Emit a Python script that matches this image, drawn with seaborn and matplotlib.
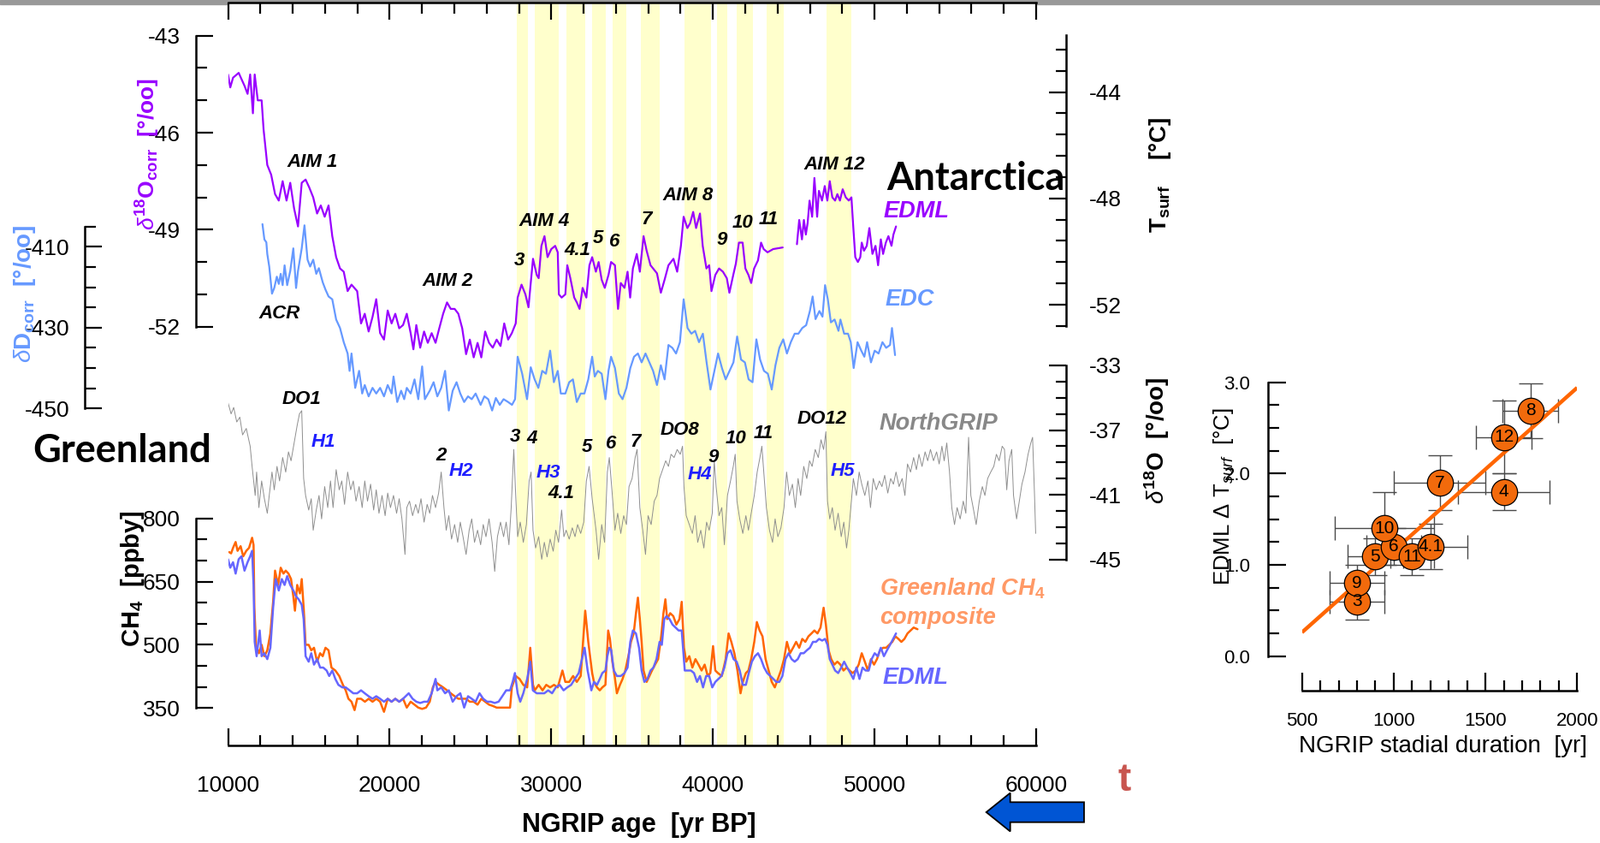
import numpy as np
import matplotlib
matplotlib.use("Agg")
import matplotlib.pyplot as plt
from matplotlib.patches import Rectangle, FancyArrow
from matplotlib.ticker import FixedLocator, StrMethodFormatter
import seaborn as sns

# ---------------- data ----------------
# yellow stadial bands (NGRIP age, yr BP)
band_start = [27850, 28985, 30930, 32530, 33780, 35520, 38260, 40270, 41490, 43330, 47040]
band_end = [28580, 30460, 32090, 33350, 34650, 36700, 39910, 40900, 42480, 44400, 48570]

# EDML d18O (purple), two pieces with a gap near 44-45 kyr
edml_age = [
    10000, 10140, 10310, 10660, 11020, 11210, 11370, 11540, 11650, 11840,
    12080, 12200, 12430, 12670, 12910, 13140, 13380, 13620, 13850, 14090,
    14330, 14560, 14800, 15030, 15270, 15510, 15740, 15980, 16220, 16450,
    16690, 16930, 17160, 17400, 17640, 17990, 18230, 18460, 18700, 18940,
    19170, 19410, 19650, 19880, 20120, 20350, 20590, 20830, 21060, 21300,
    21470, 21650, 21890, 22130, 22360, 22600, 22840, 23070, 23310, 23550,
    23780, 24020, 24250, 24490, 24730, 24960, 25200, 25440, 25670, 25910,
    26150, 26380, 26620, 26860, 27090, 27330, 27560, 27800, 27920, 28160,
    28400, 28590, 28870, 29100, 29220, 29390, 29580, 29770, 30000, 30240,
    30400, 30470, 30640, 30870, 30990, 31180, 31420, 31580, 31750, 31940,
    32170, 32360, 32530, 32760, 32930, 33120, 33310, 33540, 33700, 33940,
    34130, 34300, 34530, 34720, 34880, 35050, 35290, 35480, 35710, 35900,
    36140, 36300, 36540, 36780, 37010, 37250, 37560, 37790, 38020, 38190,
    38420, 38590, 38780, 38960, 39200, 39370, 39600, 39770, 39910, 40150,
    40380, 40620, 40860, 41020, 41260, 41420, 41610, 41840, 42010, 42200,
    42370, 42550, 42790, 42980, 43140, 43380, 43730, 44320,
    45200, 45340, 45510, 45630, 45750, 45860, 45980, 46140, 46280, 46450,
    46560, 46750, 46920, 47080, 47230, 47390, 47560, 47700, 47860, 48030,
    48220, 48410, 48570, 48690, 48810, 48970, 49120, 49210, 49350, 49520,
    49680, 49870, 50060, 50220, 50390, 50530, 50700, 50860, 51050, 51170,
    51330]
edml_d18o = [
    -44.2, -44.6, -44.3, -44.15, -44.55, -44.8, -44.2, -45.4, -44.2, -45.0,
    -45.0, -45.9, -47.0, -47.3, -47.9, -48.1, -47.5, -48.1, -47.55, -48.35,
    -48.9, -47.55, -47.45, -47.7, -48.0, -48.5, -48.25, -48.6, -48.25, -49.2,
    -49.85, -50.2, -50.3, -50.9, -50.7, -50.9, -51.9, -51.6, -52.15, -51.7,
    -51.15, -52.2, -52.4, -51.5, -51.9, -51.6, -52.05, -51.95, -51.6, -52.2,
    -52.7, -51.95, -52.65, -52.15, -52.5, -52.2, -52.5, -52.05, -51.6, -51.25,
    -51.45, -51.45, -51.6, -52.05, -52.85, -52.4, -52.95, -52.5, -52.95, -52.15,
    -52.5, -52.65, -52.4, -52.6, -51.9, -52.4, -52.2, -51.9, -51.1, -50.7,
    -51.0, -51.4, -49.9, -50.4, -50.5, -49.5, -49.2, -49.85, -49.6, -49.5,
    -49.7, -51.0, -51.1, -51.0, -50.1, -50.5, -51.1, -51.25, -51.45, -50.8,
    -51.1, -50.1, -49.85, -50.3, -50.0, -50.55, -50.8, -50.4, -50.0, -50.1,
    -51.45, -50.65, -50.8, -50.3, -51.1, -50.2, -49.75, -50.3, -49.2, -49.65,
    -50.1, -50.2, -50.35, -50.95, -50.55, -50.1, -49.9, -50.3, -49.5, -48.6,
    -48.95, -48.8, -48.45, -48.95, -48.5, -49.5, -50.2, -50.1, -50.9, -50.4,
    -50.2, -50.3, -50.5, -50.95, -50.4, -50.05, -49.4, -49.4, -50.2, -50.4,
    -50.65, -50.2, -49.95, -49.4, -49.6, -49.7, -49.6, -49.55,
    -49.45, -48.7, -49.3, -48.7, -49.15, -48.8, -48.1, -48.6, -47.4, -48.6,
    -47.8, -48.1, -47.65, -48.1, -47.5, -48.0, -48.1, -47.9, -48.1, -47.75,
    -48.0, -48.1, -48.0, -48.95, -49.85, -50.0, -49.85, -49.4, -49.65, -49.5,
    -48.95, -49.75, -49.5, -50.1, -49.3, -49.75, -49.4, -49.2, -49.5, -49.15,
    -48.9]

# EDC dD (light blue)
edc_age = [
    12130, 12250, 12370, 12430, 12550, 12720, 12860, 13020, 13140, 13260,
    13380, 13500, 13660, 13850, 14040, 14210, 14330, 14560, 14730, 14920,
    15080, 15270, 15460, 15620, 15860, 16030, 16220, 16450, 16690, 16930,
    17160, 17400, 17520, 17640, 17870, 18110, 18300, 18460, 18700, 18940,
    19170, 19410, 19650, 19880, 20120, 20240, 20470, 20710, 20900, 21060,
    21300, 21540, 21770, 22010, 22180, 22480, 22720, 22950, 23190, 23430,
    23660, 23900, 24140, 24370, 24610, 24850, 25080, 25320, 25630, 25860,
    26100, 26340, 26570, 26810, 27050, 27330, 27570, 27760, 27920, 28200,
    28500, 28730, 28970, 29200, 29440, 29670, 29930, 30160, 30400, 30590,
    30870, 31110, 31340, 31580, 31820, 32050, 32290, 32530, 32690, 32880,
    33120, 33350, 33540, 33700, 33940, 34180, 34410, 34650, 34890, 35120,
    35360, 35590, 35830, 36070, 36300, 36540, 36780, 37010, 37250, 37490,
    37720, 37960, 38190, 38430, 38670, 38900, 39140, 39380, 39610, 39850,
    40090, 40320, 40560, 40790, 41030, 41270, 41500, 41740, 41980, 42210,
    42450, 42690, 42920, 43160, 43400, 43640, 43870, 44110, 44350, 44580,
    44820, 45060, 45290, 45530, 45770, 46000, 46170, 46350, 46590, 46780,
    46940, 47110, 47300, 47530, 47770, 47890, 48120, 48360, 48530, 48710,
    48950, 49180, 49370, 49540, 49780, 50010, 50250, 50490, 50720, 50960,
    51080, 51270]
edc_dd = [
    -404.4, -408.2, -408.9, -411.8, -414.9, -421.6, -420.2, -417.4, -419.2, -416.7,
    -419.5, -414.6, -419.5, -416.0, -410.4, -420.2, -416.0, -410.4, -404.7, -413.2,
    -414.9, -413.2, -416.7, -415.3, -418.8, -420.6, -422.3, -423.0, -428.0, -430.1,
    -433.6, -436.4, -440.7, -436.4, -444.9, -440.7, -446.3, -444.2, -447.0, -444.9,
    -446.3, -444.9, -447.0, -444.2, -446.3, -442.1, -448.4, -445.6, -447.7, -444.9,
    -446.3, -442.8, -447.7, -439.6, -447.7, -445.6, -443.5, -447.0, -444.9, -440.7,
    -450.5, -445.6, -443.5, -446.3, -448.4, -447.0, -447.7, -446.3, -449.1, -447.0,
    -447.7, -450.5, -447.4, -449.1, -447.7, -448.4, -449.1, -447.7, -437.2, -441.4,
    -447.7, -439.8, -442.8, -444.9, -440.7, -441.4, -435.7, -443.5, -440.7, -446.3,
    -446.3, -443.5, -442.8, -448.4, -446.3, -446.3, -442.8, -437.2, -442.1, -440.7,
    -441.4, -447.7, -440.7, -437.2, -440.0, -446.3, -447.7, -444.9, -440.0, -437.2,
    -436.4, -438.6, -436.4, -438.6, -440.7, -444.2, -439.3, -442.8, -434.3, -435.0,
    -436.4, -433.6, -423.0, -430.1, -431.5, -430.8, -433.6, -431.5, -438.6, -445.3,
    -440.7, -436.4, -440.0, -442.8, -440.7, -438.6, -432.2, -437.9, -438.6, -442.8,
    -443.5, -432.9, -437.9, -440.7, -441.4, -445.3, -439.3, -435.0, -432.9, -436.4,
    -433.6, -431.5, -431.5, -430.1, -429.4, -425.9, -422.3, -427.9, -425.9, -427.3,
    -419.5, -423.0, -428.7, -428.0, -430.8, -428.0, -431.5, -431.5, -433.6, -440.0,
    -433.6, -435.7, -437.2, -433.6, -438.6, -435.7, -436.4, -433.6, -435.0, -434.3,
    -430.1, -436.8]

# NorthGRIP d18O (grey)
ngrip_age = [
    10000, 10190, 10350, 10540, 10730, 10900, 11130, 11370, 11490, 11680,
    11770, 11910, 12080, 12250, 12430, 12550, 12720, 12860, 13030, 13190,
    13380, 13570, 13740, 13900, 14090, 14280, 14420, 14560, 14680, 14800,
    14990, 15150, 15270, 15460, 15630, 15790, 15980, 16170, 16340, 16500,
    16690, 16880, 17040, 17210, 17400, 17590, 17750, 17920, 18110, 18300,
    18460, 18630, 18820, 19010, 19170, 19340, 19530, 19720, 19880, 20050,
    20240, 20430, 20590, 20760, 20950, 21060, 21230, 21420, 21610, 21770,
    21940, 22130, 22320, 22480, 22650, 22840, 23030, 23190, 23360, 23500,
    23660, 23830, 24020, 24210, 24370, 24540, 24730, 24920, 25080, 25250,
    25440, 25630, 25790, 25960, 26150, 26340, 26500, 26670, 26860, 27050,
    27210, 27380, 27520, 27680, 27800, 27920, 28080, 28270, 28460, 28630,
    28750, 28870, 29030, 29220, 29410, 29570, 29740, 29930, 30120, 30280,
    30450, 30640, 30780, 30920, 31110, 31300, 31470, 31630, 31820, 32010,
    32170, 32340, 32530, 32770, 32930, 33120, 33300, 33470, 33590, 33780,
    33940, 34110, 34300, 34480, 34650, 34810, 35000, 35190, 35310, 35480,
    35660, 35830, 35990, 36180, 36370, 36540, 36700, 36890, 37080, 37250,
    37410, 37600, 37790, 37980, 38120, 38210, 38350, 38540, 38730, 38900,
    39060, 39250, 39440, 39610, 39770, 39960, 40080, 40200, 40380, 40550,
    40710, 40900, 41090, 41260, 41380, 41490, 41660, 41850, 42040, 42200,
    42370, 42560, 42740, 42910, 43030, 43150, 43310, 43500, 43690, 43850,
    44020, 44210, 44400, 44560, 44730, 44920, 45100, 45270, 45430, 45620,
    45810, 45980, 46140, 46330, 46520, 46690, 46850, 46990, 47090, 47230,
    47390, 47560, 47750, 47940, 48100, 48270, 48410, 48570, 48690, 48880,
    49050, 49210, 49400, 49590, 49750, 49920, 50110, 50300, 50460, 50630,
    50820, 51000, 51170, 51330, 51520, 51710, 51880, 52040, 52230, 52420,
    52590, 52750, 52940, 53130, 53290, 53460, 53650, 53840, 54000, 54170,
    54310, 54470, 54640, 54780, 54950, 55110, 55300, 55490, 55650, 55820,
    55960, 56130, 56290, 56480, 56670, 56830, 57000, 57190, 57380, 57540,
    57710, 57900, 58040, 58180, 58320, 58490, 58600, 58790, 58960, 59120,
    59310, 59500, 59670, 59780, 59900, 59970]
ngrip_d18o = [
    -35.3, -36.0, -35.6, -36.5, -36.2, -37.3, -36.9, -38.0, -39.25, -41.05,
    -39.6, -41.8, -40.15, -41.25, -42.15, -41.05, -39.6, -40.7, -39.25, -40.15,
    -38.7, -39.6, -38.35, -38.9, -37.8, -36.7, -36.0, -35.8, -40.0, -41.05,
    -41.95, -41.25, -43.2, -41.95, -41.05, -42.5, -40.5, -41.8, -40.15, -41.8,
    -39.45, -40.7, -40.15, -41.6, -39.6, -40.7, -40.15, -41.4, -40.5, -41.8,
    -40.15, -41.4, -40.35, -41.95, -40.7, -42.15, -41.05, -42.3, -40.9, -41.8,
    -41.05, -42.15, -41.25, -42.5, -44.7, -41.8, -41.4, -42.3, -41.6, -42.15,
    -41.25, -42.7, -41.6, -42.15, -41.05, -41.8, -40.9, -39.6, -41.8, -43.2,
    -42.3, -43.75, -42.85, -43.95, -42.7, -43.6, -44.7, -43.2, -42.5, -43.95,
    -43.2, -44.1, -42.85, -43.6, -42.5, -43.95, -45.75, -43.6, -42.7, -43.6,
    -42.7, -44.1, -41.8, -38.2, -41.05, -43.6, -42.7, -43.95, -42.85, -40.15,
    -39.6, -43.2, -44.3, -43.6, -45.0, -43.95, -44.85, -43.75, -44.5, -43.2,
    -43.95, -41.95, -43.6, -43.2, -43.75, -43.05, -43.6, -42.85, -43.4, -42.7,
    -40.15, -39.25, -41.25, -43.2, -45.0, -42.85, -43.95, -39.6, -38.7, -41.05,
    -43.2, -42.15, -43.4, -42.3, -42.85, -40.5, -40.0, -38.7, -38.2, -41.8,
    -43.2, -44.7, -42.3, -42.85, -41.4, -41.05, -40.0, -39.45, -38.9, -39.25,
    -38.5, -38.7, -38.2, -38.5, -38.0, -40.5, -42.3, -42.85, -43.4, -42.3,
    -43.95, -43.2, -44.3, -42.7, -43.2, -42.15, -38.9, -40.5, -42.3, -41.8,
    -44.1, -41.05, -40.15, -39.25, -38.5, -41.4, -42.5, -43.4, -42.3, -43.2,
    -42.15, -41.05, -39.6, -38.7, -38.0, -39.6, -41.8, -43.2, -43.95, -42.5,
    -43.6, -43.05, -41.8, -39.6, -41.05, -40.35, -41.8, -40.0, -41.05, -39.25,
    -40.0, -38.9, -39.25, -38.2, -38.7, -37.6, -38.2, -37.1, -41.4, -42.5,
    -41.8, -43.2, -42.15, -43.6, -42.7, -44.3, -43.2, -41.4, -40.0, -41.05,
    -39.6, -40.35, -41.05, -40.15, -41.8, -40.0, -40.7, -40.15, -40.5, -39.8,
    -40.9, -40.0, -40.35, -39.6, -40.5, -40.0, -41.05, -39.1, -39.6, -38.7,
    -39.45, -38.5, -39.25, -38.35, -38.9, -38.2, -38.9, -38.35, -39.1, -38.0,
    -38.9, -37.8, -39.6, -41.8, -42.85, -41.8, -42.5, -41.4, -42.15, -37.45,
    -41.05, -41.95, -42.85, -41.4, -40.5, -41.05, -40.0, -39.6, -39.25, -38.5,
    -38.9, -38.0, -38.2, -40.7, -38.9, -38.2, -41.05, -42.5, -41.4, -40.35,
    -39.6, -38.5, -37.8, -37.45, -41.05, -43.4]

# Greenland CH4 composite (orange)
ch4_grl_age = [
    10070, 10190, 10310, 10470, 10590, 10780, 10940, 11130, 11300, 11490,
    11580, 11630, 11730, 11910, 12080, 12250, 12430, 12620, 12790, 12910,
    13100, 13260, 13430, 13570, 13740, 13900, 14040, 14140, 14280, 14450,
    14560, 14680, 14800, 14990, 15150, 15320, 15510, 15700, 15860, 16030,
    16220, 16400, 16640, 16880, 17110, 17280, 17450, 17640, 17830, 17990,
    18230, 18470, 18700, 18940, 19180, 19410, 19650, 19880, 20120, 20350,
    20590, 20830, 21060, 21300, 21540, 21770, 22010, 22250, 22480, 22670,
    22840, 23070, 23310, 23550, 23780, 24020, 24250, 24490, 24730, 24960,
    25200, 25440, 25670, 25910, 26150, 26380, 26620, 27090, 27450, 27560,
    27800, 28040, 28270, 28510, 28700, 28870, 28980, 29220, 29460, 29690,
    29930, 30170, 30400, 30690, 30870, 31110, 31350, 31580, 31820, 32100,
    32290, 32530,
    32640, 32830, 33000, 33160, 33350, 33520, 33630, 33780, 33920, 34060,
    34250, 34410, 34580, 34770, 34930, 35100, 35240, 35360, 35480, 35590,
    35710, 35900, 36070, 36230, 36420, 36610, 36800, 36940, 37060, 37170,
    37360, 37550, 37740, 37930, 38070, 38210, 38350, 38540, 38730, 38920,
    39110, 39300, 39490, 39680, 39840, 40010, 40150, 40310, 40550, 40790,
    40970, 41140, 41330, 41520, 41710, 41850, 42040, 42200, 42370, 42560,
    42720, 42890, 43070, 43260, 43450, 43640, 43830, 44020, 44210, 44400,
    44580, 44770, 44960, 45150, 45340, 45530, 45720, 45910, 46100, 46280,
    46470, 46660, 46850, 46990, 47160, 47320, 47510, 47700, 47890, 48080,
    48270, 48460, 48640, 48830, 49020, 49210, 49400, 49590, 49780, 49970,
    50150, 50340, 50530, 50720, 50910, 51100, 51290, 51480, 51660, 51850,
    52040, 52230, 52420, 52660]
ch4_grl_ppb = [
    720, 717, 730, 744, 723, 734, 710, 723, 730, 754,
    737, 588, 500, 480, 500, 473, 487, 527, 602, 676,
    642, 683, 669, 676, 669, 656, 615, 581, 642, 622,
    656, 588, 500, 500, 487, 493, 460, 480, 473, 493,
    487, 446, 439, 426, 405, 392, 372, 365, 345, 372,
    372, 365, 372, 365, 372, 365, 341, 372, 365, 372,
    365, 372, 351, 365, 358, 351, 348, 351, 365, 399,
    412, 405, 399, 392, 385, 378, 372, 372, 372, 365,
    365, 358, 372, 365, 358, 355, 351, 351, 351, 399,
    426, 419, 405, 399, 493, 405, 392, 405, 392, 405,
    399, 405, 399, 439, 412, 412, 426, 412, 426, 581,
    507, 433,
    412, 399, 392, 399, 405, 534, 514, 460, 426, 385,
    405, 419, 439, 473, 507, 527, 575, 612, 561, 507,
    439, 412, 426, 439, 453, 466, 520, 575, 608, 561,
    575, 568, 548, 561, 602, 493, 460, 473, 446, 466,
    453, 439, 453, 426, 433, 497, 439, 433, 426, 466,
    527, 507, 480, 439, 385, 412, 433, 439, 466, 507,
    554, 534, 520, 466, 439, 412, 399, 419, 439, 466,
    507, 480, 493, 507, 493, 514, 507, 520, 527, 534,
    527, 541, 588, 548, 487, 466, 453, 460, 453, 439,
    446, 439, 433, 439, 453, 480, 460, 439, 466, 453,
    466, 487, 493, 493, 500, 507, 520, 514, 507, 514,
    527, 534, 541, 537]

# EDML CH4 (blue-violet)
ch4_edml_age = [
    10000, 10140, 10310, 10470, 10660, 10830, 11020, 11210, 11370, 11490,
    11580, 11650, 11770, 11960, 12080, 12250, 12430, 12620, 12790, 12950,
    13140, 13330, 13500, 13660, 13850, 14040, 14210, 14370, 14560, 14680,
    14800, 14990, 15150, 15320, 15510, 15700, 15890, 16100, 16260, 16450,
    16640, 16830, 17070, 17280, 17520, 17750, 17990, 18230, 18460, 18700,
    18940, 19170, 19410, 19650, 19880, 20120, 20350, 20590, 20830, 21180,
    21420, 21650, 21890, 22130, 22360, 22600, 22840, 22950, 23190, 23430,
    23660, 23900, 24140, 24370, 24610, 24850, 25080, 25320, 25560, 25790,
    26030, 26260, 26500, 26740, 26970, 27210, 27450, 27610, 27750, 27920,
    28080, 28270, 28510, 28700, 28860, 29100, 29340, 29570, 29810, 30050,
    30280, 30520, 30760, 30990, 31230, 31460, 31700, 31940, 32060, 32250,
    32480,
    32640, 32830, 33000, 33160, 33350, 33470, 33590, 33710, 33870, 34060,
    34300, 34530, 34720, 34890, 35050, 35240, 35430, 35590, 35760, 35950,
    36140, 36320, 36510, 36700, 36840, 36990, 37130, 37320, 37500, 37690,
    37880, 38070, 38260, 38450, 38640, 38830, 39020, 39200, 39390, 39580,
    39770, 39960, 40150, 40340, 40530, 40710, 40900, 41090, 41280, 41470,
    41660, 41850, 42040, 42220, 42410, 42600, 42790, 42980, 43170, 43360,
    43550, 43740, 43920, 44110, 44300, 44490, 44680, 44870, 45060, 45250,
    45430, 45620, 45810, 46000, 46190, 46380, 46570, 46760, 46940, 47090,
    47230, 47390, 47560, 47750, 47940, 48120, 48310, 48500, 48690, 48880,
    49070, 49260, 49450, 49640, 49820, 50010, 50200, 50390, 50580, 50770,
    50960, 51150, 51330]
ch4_edml_ppb = [
    703, 683, 696, 669, 703, 710, 676, 696, 710, 723,
    642, 507, 473, 534, 473, 480, 466, 493, 588, 656,
    629, 656, 642, 663, 642, 629, 615, 608, 595, 561,
    473, 460, 480, 453, 466, 446, 446, 439, 426, 439,
    419, 405, 399, 399, 392, 385, 385, 392, 385, 378,
    372, 378, 372, 365, 372, 365, 372, 365, 372, 385,
    372, 365, 362, 365, 365, 385, 419, 392, 399, 385,
    392, 365, 378, 385, 351, 378, 372, 365, 385, 372,
    365, 365, 362, 365, 378, 392, 392, 412, 433, 385,
    365, 385, 419, 460, 392, 385, 385, 385, 392, 385,
    399, 405, 392, 399, 405, 419, 433, 473, 493, 439,
    392,
    412, 405, 419, 433, 439, 473, 493, 487, 439, 426,
    426, 433, 446, 507, 534, 527, 493, 439, 412, 419,
    439, 446, 466, 507, 500, 561, 568, 561, 548, 541,
    534, 534, 439, 439, 439, 433, 412, 426, 399, 426,
    426, 399, 412, 419, 426, 446, 480, 487, 466, 460,
    439, 405, 405, 433, 460, 473, 480, 466, 446, 433,
    426, 419, 412, 412, 426, 466, 480, 466, 460, 466,
    480, 480, 487, 493, 507, 507, 514, 510, 514, 500,
    466, 453, 439, 433, 446, 460, 446, 433, 419, 446,
    419, 446, 439, 439, 466, 480, 473, 493, 473, 487,
    500, 514, 527]

# inset: EDML warming vs NGRIP stadial duration
event_name = ["3", "9", "5", "6", "10", "11", "4.1", "7", "4", "12", "8"]
stadial_dur = [800, 800, 900, 1000, 950, 1100, 1200, 1250, 1600, 1600, 1745]
dur_err = [150, 150, 150, 150, 270, 120, 200, 250, 250, 150, 150]
edml_dT = [0.60, 0.80, 1.09, 1.20, 1.40, 1.09, 1.20, 1.90, 1.80, 2.40, 2.69]
dT_err = [0.20, 0.20, 0.20, 0.20, 0.40, 0.20, 0.25, 0.30, 0.20, 0.40, 0.30]

# event labels: (text, x px, y px)
black_notes = [("AIM 1", 365, 189), ("ACR", 327, 366), ("AIM 2", 523, 328),
               ("3", 607, 304), ("AIM 4", 636, 259), ("4.1", 675, 292),
               ("5", 699, 278), ("6", 718, 283), ("7", 756, 257),
               ("AIM 8", 804, 229), ("9", 844, 280), ("10", 868, 261),
               ("11", 898, 256), ("AIM 12", 975, 193), ("DO1", 352, 467),
               ("2", 516, 532), ("3", 602, 510), ("4", 622, 512),
               ("4.1", 656, 577), ("5", 686, 522), ("6", 714, 518),
               ("7", 743, 516), ("DO8", 794, 502), ("9", 834, 535),
               ("10", 860, 512), ("11", 892, 507), ("DO12", 961, 490)]
blue_notes = [("H1", 378, 517), ("H2", 539, 551), ("H3", 641, 552),
              ("H4", 818, 554), ("H5", 985, 551)]

# ---------------- figure ----------------
W, H = 1870, 985
sns.set_theme(style="ticks")
plt.rcParams['font.family'] = ['Liberation Sans', 'DejaVu Sans']
plt.rcParams['mathtext.fontset'] = 'custom'
plt.rcParams['mathtext.rm'] = 'Liberation Sans'
plt.rcParams['mathtext.it'] = 'Liberation Sans:italic'
plt.rcParams['mathtext.bf'] = 'Liberation Sans:bold'
plt.rcParams['axes.unicode_minus'] = False
for k in ['axes.edgecolor', 'xtick.color', 'ytick.color', 'text.color',
          'axes.labelcolor', 'xtick.labelcolor', 'ytick.labelcolor']:
    plt.rcParams[k] = 'black'

fig = plt.figure(figsize=(W / 100, H / 100), dpi=100)
fig.patch.set_facecolor('white')


def fx(px):
    return px / W


def fy(py):
    return 1 - py / H


X0, X1 = 266.5, 1211.0     # pixel span of 10000..60000 yr
Y0, Y1 = 3.3, 871.0        # top and bottom time axis lines
MAIN = [fx(X0), fy(Y1), (X1 - X0) / W, (Y1 - Y0) / H]
TICK_W = 1.6
TICK_FS = 19

# time axis + bands
ax = fig.add_axes(MAIN)
ax.set_xlim(10000, 60000)
ax.set_ylim(0, 1)
for a, b in zip(band_start, band_end):
    ax.axvspan(a, b, color='#ffffcc', lw=0, zorder=0)
ax.spines['left'].set_visible(False)
ax.spines['right'].set_visible(False)
for s in ['top', 'bottom']:
    ax.spines[s].set_linewidth(1.8)
ax.set_yticks([])
ax.xaxis.set_major_locator(FixedLocator(np.arange(10000, 60001, 10000)))
ax.xaxis.set_minor_locator(FixedLocator(np.arange(10000, 60001, 2000)))
ax.xaxis.set_major_formatter(StrMethodFormatter('{x:.0f}'))
ax.tick_params(axis='x', which='both', direction='in', top=True, bottom=True,
               width=TICK_W, labelsize=TICK_FS, pad=25)
ax.tick_params(axis='x', which='major', length=14.5)
ax.tick_params(axis='x', which='minor', length=9)
ax.set_xlabel("NGRIP age  [yr BP]", fontsize=22, fontweight='bold')
ax.xaxis.set_label_coords((747 - X0) / (X1 - X0), -(949 - Y1) / (Y1 - Y0))


def overlay(v_a, y_a, v_b, y_b, side, spine_px, bounds, majors, minors, pad, fmt='{x:.0f}'):
    o = fig.add_axes(MAIN)
    o.patch.set_visible(False)
    ppu = (y_b - y_a) / (v_a - v_b)
    o.set_xlim(10000, 60000)
    o.set_ylim(v_b - (Y1 - y_b) / ppu, v_a + (y_a - Y0) / ppu)
    o.xaxis.set_visible(False)
    for s in ['top', 'bottom', 'left', 'right']:
        o.spines[s].set_visible(s == side)
    sp = o.spines[side]
    sp.set_position(('axes', (spine_px - X0) / (X1 - X0)))
    sp.set_bounds(*bounds)
    sp.set_linewidth(1.8)
    o.yaxis.set_ticks_position(side)
    o.yaxis.set_major_locator(FixedLocator(majors))
    o.yaxis.set_minor_locator(FixedLocator(minors))
    o.yaxis.set_major_formatter(StrMethodFormatter(fmt))
    o.tick_params(axis='y', which='both', direction='in', width=TICK_W,
                  labelsize=TICK_FS, pad=pad)
    o.tick_params(axis='y', which='major', length=14.5)
    o.tick_params(axis='y', which='minor', length=9)
    return o


def series(o, x, y, color, lw):
    sns.lineplot(x=x, y=y, ax=o, color=color, lw=lw, estimator=None, sort=False)
    o.set_xlabel('')
    o.set_ylabel('')


# NorthGRIP
ax_ng = overlay(-33, 427, -45, 653.5, 'right', 1246, (-45, -33),
                [-33, -37, -41, -45], np.arange(-45, -32), pad=19)
series(ax_ng, ngrip_age, ngrip_d18o, '#8f8f8f', 0.7)

# EDC dD
ax_edc = overlay(-410, 288.3, -450, 477.3, 'left', 99.1, (-450, -405),
                 [-410, -430, -450], np.arange(-450, -404, 5), pad=13)
series(ax_edc, edc_age, edc_dd, '#6699ff', 1.6)

# EDML d18O (split at the gap)
e_age = np.array(edml_age)
e_val = np.array(edml_d18o)
cut = int(np.where(np.diff(e_age) > 800)[0][0]) + 1
ax_edml = overlay(-43, 41.7, -52, 381.7, 'left', 228.6, (-52, -43),
                  [-43, -46, -49, -52], np.arange(-52, -42), pad=13)
series(ax_edml, e_age[:cut], e_val[:cut], '#9900ff', 1.6)
series(ax_edml, e_age[cut:], e_val[cut:], '#9900ff', 1.6)

# Tsurf scale
ax_t = overlay(-44, 107.5, -52, 356, 'right', 1246, (-52.8, -41.85),
               [-44, -48, -52], np.round(np.arange(-52.8, -42.0, 0.8), 1), pad=19)

# CH4
ax_ch4 = overlay(800, 605.7, 350, 827.3, 'left', 228.6, (350, 800),
                 [350, 500, 650, 800], np.arange(350, 801, 50), pad=13)
series(ax_ch4, ch4_grl_age, ch4_grl_ppb, '#ff6600', 1.8)
series(ax_ch4, ch4_edml_age, ch4_edml_ppb, '#6666ff', 1.8)

# ---------------- axis labels and annotations ----------------
bold = dict(fontweight='bold', rotation=90, ha='center', va='center')
fig.text(fx(173), fy(180), r"$\delta^{\mathbf{18}}$O$_{\mathbf{corr}}$  [°/oo]",
         color='#9900ff', fontsize=19, **bold)
fig.text(fx(29), fy(343), r"$\delta$D$_{\mathbf{corr}}$  [°/oo]",
         color='#6699ff', fontsize=20, **bold)
fig.text(fx(1356), fy(204), r"T$_{\mathbf{surf}}$    [°C]", color='black', fontsize=20, **bold)
fig.text(fx(155), fy(676), r"CH$_{\mathbf{4}}$  [ppby]", color='black', fontsize=21, **bold)
fig.text(fx(1352), fy(589), r"$\delta^{\mathbf{18}}$O  [°/oo]", color='black', fontsize=20,
         fontweight='bold', rotation=90, ha='center', va='bottom', zorder=5)
fig.add_artist(Rectangle((fx(1325), fy(440)), 60 / W, 90 / H, transform=fig.transFigure,
                         color='white', zorder=6))

fig.text(fx(1036), fy(209), "Antarctica", family=['Lato', 'DejaVu Sans'], fontweight='bold',
         fontsize=32.5, ha='left', va='center')
fig.text(fx(38), fy(527), "Greenland", family=['Lato', 'DejaVu Sans'], fontweight='bold',
         fontsize=32.5, ha='left', va='center')

tag = dict(fontweight='bold', style='italic', fontsize=19.5, ha='left', va='center')
fig.text(fx(1033), fy(247), "EDML", color='#9900ff', **tag)
fig.text(fx(1035), fy(350), "EDC", color='#6699ff', **tag)
fig.text(fx(1028), fy(495), "NorthGRIP", color='#888888', **tag)
fig.text(fx(1028), fy(688), r"Greenland CH$_{\mathbf{4}}$", color='#ff9966', **tag)
fig.text(fx(1028), fy(722), "composite", color='#ff9966', **tag)
fig.text(fx(1032), fy(792), "EDML", color='#6666ff', **tag)

for txt, px, py in black_notes:
    fig.text(fx(px), fy(py), txt, fontweight='bold', style='italic', fontsize=16,
             ha='center', va='center', color='black')
for txt, px, py in blue_notes:
    fig.text(fx(px), fy(py), txt, fontweight='bold', style='italic', fontsize=16,
             ha='center', va='center', color='#1f1fff')

# time arrow and "t"
fig.add_artist(FancyArrow(12.67, (H - 949) / 100, -1.143, 0, width=0.234, head_width=0.45,
                          head_length=0.28, length_includes_head=True,
                          transform=fig.dpi_scale_trans, fc='#0055d4', ec='black', lw=1.3))
fig.text(fx(1314), fy(912), "t", color='#c8554f', fontsize=33, fontweight='bold',
         ha='center', va='center')

# slide bar at the very top
fig.add_artist(Rectangle((0, fy(5)), 1, 5 / H, transform=fig.transFigure,
                         color='#999999', zorder=0))

# ---------------- inset scatter ----------------
sx0, sx1, sy0, sy1 = 1521.7, 1843.3, 766.7, 446.7
ax_s = fig.add_axes([fx(sx0), fy(sy0), (sx1 - sx0) / W, (sy0 - sy1) / H])
ax_s.patch.set_visible(False)
ax_s.set_xlim(500, 2000)
ax_s.set_ylim(0, 3)
ax_s.errorbar(stadial_dur, edml_dT, xerr=dur_err, yerr=dT_err, fmt='none',
              ecolor='#4a4a4a', elinewidth=1.0, capsize=10, capthick=1.0,
              clip_on=False, zorder=2)
sns.regplot(x=stadial_dur, y=edml_dT, ax=ax_s, scatter=False, ci=None, truncate=False,
            line_kws=dict(color='#ff6600', lw=3.2, zorder=3, solid_capstyle='butt'))
sns.scatterplot(x=stadial_dur, y=edml_dT, ax=ax_s, s=480, color='#f26a0c',
                edgecolor='black', linewidth=0.9, zorder=4, clip_on=False)
for name, dx, dy in zip(event_name, stadial_dur, edml_dT):
    ax_s.text(dx, dy, name, fontsize=15, ha='center', va='center', zorder=5, clip_on=False)
ax_s.set_xlim(500, 2000)
ax_s.set_ylim(0, 3)
for s in ['top', 'right']:
    ax_s.spines[s].set_visible(False)
ax_s.spines['left'].set_position(('outward', 28.4))
ax_s.spines['bottom'].set_position(('outward', 28.8))
ax_s.spines['left'].set_bounds(0, 3)
ax_s.spines['bottom'].set_bounds(500, 2000)
for s in ['left', 'bottom']:
    ax_s.spines[s].set_linewidth(1.8)
ax_s.xaxis.set_major_locator(FixedLocator([500, 1000, 1500, 2000]))
ax_s.xaxis.set_minor_locator(FixedLocator(np.arange(500, 2001, 100)))
ax_s.yaxis.set_major_locator(FixedLocator([0, 1, 2, 3]))
ax_s.yaxis.set_minor_locator(FixedLocator(np.arange(0, 3.01, 0.25)))
ax_s.yaxis.set_major_formatter(StrMethodFormatter('{x:.1f}'))
ax_s.tick_params(which='both', direction='in', width=TICK_W, labelsize=16)
ax_s.tick_params(which='major', length=15)
ax_s.tick_params(which='minor', length=9)
ax_s.tick_params(axis='y', pad=15)
ax_s.tick_params(axis='x', pad=18)
ax_s.set_xlabel('')
ax_s.set_ylabel('')
fig.text(fx(1686), fy(872), "NGRIP stadial duration  [yr]", fontsize=20,
         ha='center', va='center')
fig.text(fx(1430), fy(580), r"EDML $\Delta$ T$_{surf}$  [°C]", fontsize=18.5,
         rotation=90, ha='center', va='center')

fig.savefig("out.png", dpi=100, facecolor='white')
